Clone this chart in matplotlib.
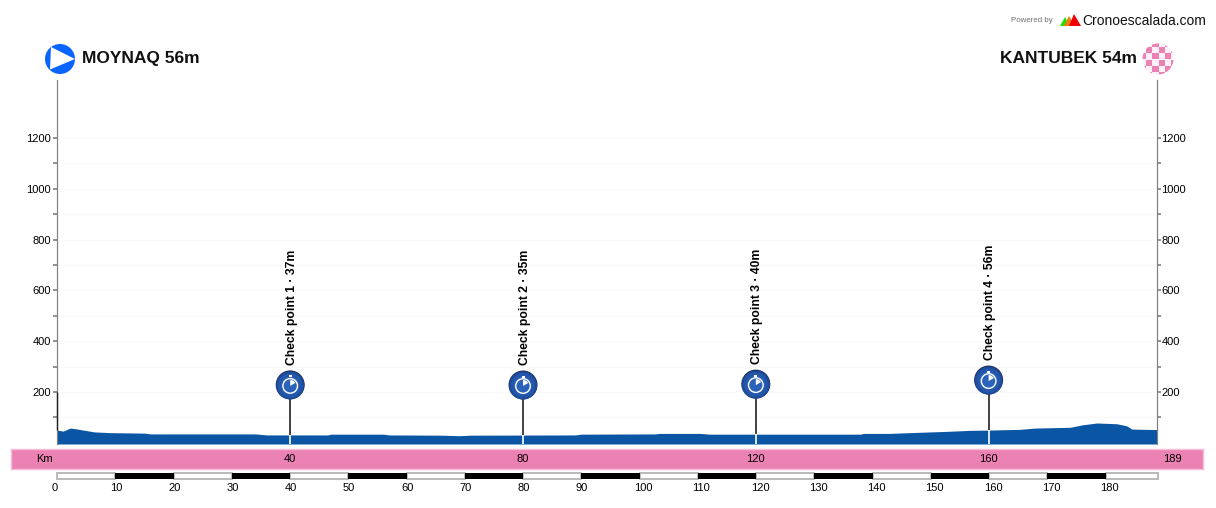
import numpy as np
import matplotlib
matplotlib.use('Agg')
import matplotlib.pyplot as plt
from matplotlib.patches import Circle, Polygon, Rectangle, Wedge

plt.rcParams['font.family'] = ['Liberation Sans', 'DejaVu Sans']

W, H = 1216, 508
PINK = "#EC82B4"
BLUE = "#0B56A4"

# profile (km, metres on the axis scale)
km = [0, 1, 2.2, 3.2, 4.5, 6.3, 9, 15, 16, 34, 36, 40, 46.5, 47, 56, 57, 66, 69, 71, 89, 90,
      102.7, 103.5, 110.4, 112, 120, 138, 138.5, 143, 146.5, 152.8, 156.8, 160, 165.4, 168,
      174, 176.2, 178.6, 182, 183.7, 184.6, 187, 189]
elev = [50, 46, 58, 55, 50, 43, 40, 38, 35, 35, 31, 31, 31, 34, 34, 31, 30, 28, 30, 31, 34,
        35, 37, 37, 34, 34, 34, 37, 37, 40, 45, 49, 50, 53, 58,
        61, 71, 78, 75, 67, 54, 53, 52]

cp_km = [40, 80, 120, 160]
cp_names = ["Check point 1 · 37m", "Check point 2 · 35m", "Check point 3 · 40m", "Check point 4 · 56m"]
major_ticks = [200, 400, 600, 800, 1000, 1200]
minor_ticks = [100, 300, 500, 700, 900, 1100]
band_km = [40, 80, 120, 160]
scale_km = list(range(0, 190, 10))

start_name = "MOYNAQ 56m"
end_name = "KANTUBEK 54m"


def axes_px(x0, y0, x1, y1):
    return fig.add_axes([x0 / W, 1 - y1 / H, (x1 - x0) / W, (y1 - y0) / H])


fig = plt.figure(figsize=(W / 100, H / 100), dpi=100)

# main profile
ax = axes_px(57.4, 80, 1157.4, 444)
ax.set_xlim(0, 189)
ax.set_ylim(-4.7, 1428)
ax.fill_between(km, -4.7, elev, color=BLUE, lw=0, zorder=3)
for t in minor_ticks + major_ticks:
    ax.axhline(t, color="#FAFAFA", lw=1, zorder=1)
ax.set_xticks([])

# right axis gets its own twin, its labels sit closer to the line
right = ax.twinx()
right.set_ylim(ax.get_ylim())
for a, pad in [(ax, 1.5), (right, 0)]:
    a.set_yticks(major_ticks)
    a.set_yticks(minor_ticks, minor=True)
    a.tick_params(axis='y', which='both', length=3, width=1.2, color="#808080", labelsize=8, pad=pad)
    a.spines['top'].set_visible(False)
    a.spines['bottom'].set_visible(False)
    a.spines['left'].set_color("#808080")
    a.spines['right'].set_color("#808080")
right.vlines(0, elev[0], 200, color="#222222", lw=1, zorder=4, clip_on=False)

# pink km band
band = axes_px(11, 449, 1203, 469)
band.set_facecolor(PINK)
band.set_xticks([])
band.set_yticks([])
for s in band.spines.values():
    s.set_color("#F6BCD8")
    s.set_linewidth(1)

# black and white scale bar
bar = axes_px(57, 473, 1158, 478.5)
bar.set_xlim(0, 189)
bar.set_ylim(0, 1)
bar.axis('off')
for i, k in enumerate(scale_km):
    end = min(k + 10, 189)
    if i % 2:
        bar.barh(0.5, end - k, left=k, height=1.1, color="black", lw=0, zorder=3, clip_on=False)
    else:
        bar.barh(0.5, end - k, left=k, height=1, color="white", edgecolor="#B4B4B4", lw=1.3, clip_on=False)
    # labels are anchored on their left side, a little before the km mark
    bar.annotate(str(k), (k, 0.5), xytext=(-5.3, -12.5), textcoords='offset pixels',
                 ha='left', va='center', fontsize=8, annotation_clip=False)

# overlay in pixels for header and icons
over = fig.add_axes([0, 0, 1, 1], facecolor='none')
over.set_xlim(0, W)
over.set_ylim(H, 0)
over.axis('off')

over.text(44, 459.5, "Km", ha='center', va='center', fontsize=8)
over.text(1172, 459.5, "189", ha='center', va='center', fontsize=8)

for k, name in zip(cp_km, cp_names):
    e = np.interp(k, km, elev)
    ax.vlines(k, -4.7, e, color="white", lw=1.2, zorder=5)
    ax.vlines(k, e, e + 197, color="#333333", lw=1.3, zorder=5)
    px, py = ax.transData.transform((k, e + 197))
    py = H - py
    over.text(px + 1.5, py - 20, name, rotation=90, ha='center', va='bottom',
              fontsize=8.7, fontweight='bold')
    over.add_patch(Circle((px, py), 14.5, fc="#1B2E58", ec='none'))
    for r, c in [(14, "#1E4C9C"), (12, "#2457AA"), (9, "#2C63BA")]:
        over.add_patch(Circle((px, py + 0.5), r, fc=c, ec='none'))
    over.add_patch(Circle((px, py + 1), 7.3, fc='none', ec="white", lw=1))
    over.add_patch(Wedge((px, py + 1), 6, -90, -30, fc="white", ec='none'))
    over.add_patch(Rectangle((px - 1.5, py - 9.5), 3, 2, fc="white", ec='none'))

for k in band_km:
    band_x = ax.transData.transform((k, 0))[0]
    over.text(band_x, 459.5, str(k), ha='center', va='center', fontsize=8)

# start and finish flags
over.add_patch(Circle((60, 59), 15, fc="#0A64FF", ec='none'))
over.add_patch(Polygon([[51, 47], [75, 59], [50, 69.5]], fc="white", ec='none'))
over.text(82, 58.5, start_name, ha='left', va='center', fontsize=12.5, fontweight='bold', color="#111111")
over.text(1137, 58.5, end_name, ha='right', va='center', fontsize=12.5, fontweight='bold', color="#111111")

clip = Circle((1158, 59), 15.5, transform=over.transData)
over.add_patch(Circle((1158, 59), 15.5, fc="#FDF0F6", ec='none'))
for i in range(-3, 3):
    for j in range(-3, 3):
        if (i + j) % 2 == 0:
            sq = Rectangle((1158.5 + i * 6.3, 59.5 + j * 6.3), 6.3, 6.3, fc=PINK, ec='none')
            over.add_patch(sq)
            sq.set_clip_path(clip)

# powered by
over.text(1053, 21, "Powered by", ha='right', va='center', fontsize=5.7, color="#707070")
over.add_patch(Polygon([[1060, 26], [1065, 17], [1070, 26]], fc="#22E000", ec='none'))
over.add_patch(Polygon([[1064, 26], [1069, 16], [1075, 26]], fc="#F47A10", ec='none'))
over.add_patch(Polygon([[1069, 26], [1074, 14], [1081, 26]], fc="#F00000", ec='none'))
over.text(1082, 21, "Cronoescalada.com", ha='left', va='center', fontsize=10, color="#111111")

fig.savefig("out.png", dpi=100)
